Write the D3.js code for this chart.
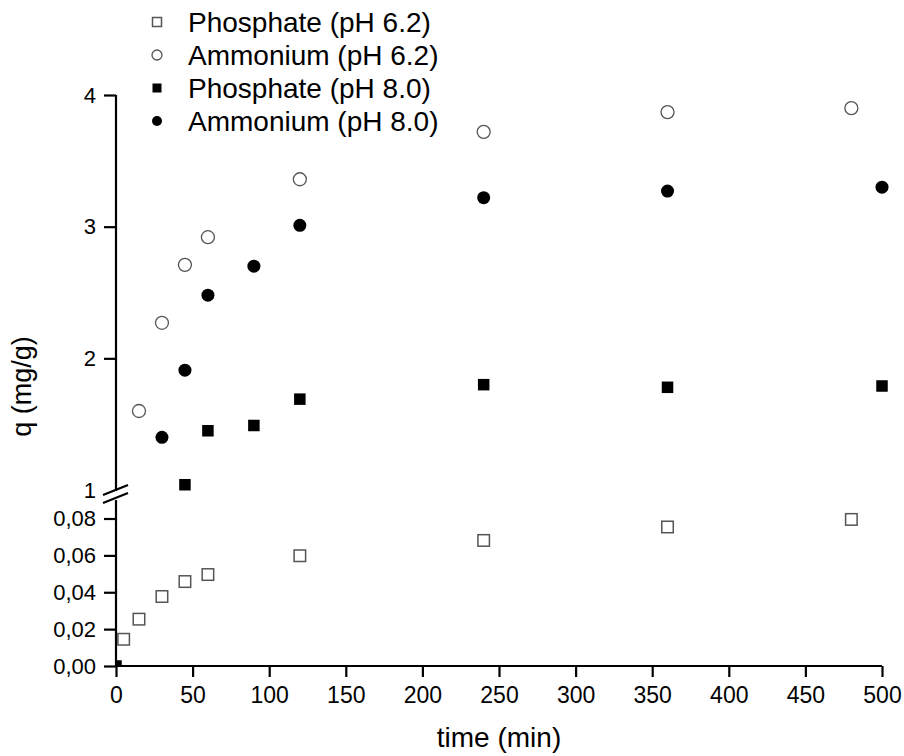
<html>
<head>
<script src="https://d3js.org/d3.v7.min.js"></script>
<style>
    body { margin: 0; background: #fff; }
    .axis path, .axis line { stroke: #000; stroke-width: 2.2px; }
    .axis text { font-family: "Liberation Sans", Arial, sans-serif; font-size: 22px; fill: #000; }
    .xaxis text { font-size: 23px; }
    .title { font-family: "Liberation Sans", Arial, sans-serif; fill: #000; }
    .legend text { font-family: "Liberation Sans", Arial, sans-serif; font-size: 28px; fill: #000; }
</style>
</head>
<body>
<svg id="chart" width="904" height="756"></svg>
<script>
    // values (phosphate pH 6.2 sits on the low part of the broken y axis)
    const timeP62 = [5, 15, 30, 45, 60, 120, 240, 360, 480];
    const qP62 = [0.0145, 0.0254, 0.0377, 0.0458, 0.0496, 0.0598, 0.0681, 0.0754, 0.0795];

    const timeA62 = [15, 30, 45, 60, 120, 240, 360, 480];
    const qA62 = [1.60, 2.27, 2.71, 2.92, 3.36, 3.72, 3.87, 3.90];

    const timeP80 = [0, 45, 60, 90, 120, 240, 360, 500];
    const qP80 = [0, 1.04, 1.45, 1.49, 1.69, 1.80, 1.78, 1.79];

    const timeA80 = [30, 45, 60, 90, 120, 240, 360, 500];
    const qA80 = [1.40, 1.91, 2.48, 2.70, 3.01, 3.22, 3.27, 3.30];

    const seriesNames = ["Phosphate (pH 6.2)", "Ammonium (pH 6.2)", "Phosphate (pH 8.0)", "Ammonium (pH 8.0)"];
    const xTicks = [0, 50, 100, 150, 200, 250, 300, 350, 400, 450, 500];
    const yLowTicks = [0, 0.02, 0.04, 0.06, 0.08];
    const yHighTicks = [1, 2, 3, 4];

    const svg = d3.select("#chart");
    const width = +svg.attr("width");
    const height = +svg.attr("height");
    const margin = { top: 95, right: 22, bottom: 90, left: 116 };
    const plotBottom = height - margin.bottom;

    const x = d3.scaleLinear().domain([0, 500]).range([margin.left, width - margin.right]);
    // two y scales, axis broken between ~0.09 and 1
    const yLow = d3.scaleLinear().domain([0, 0.08]).range([plotBottom, plotBottom - 147.5]);
    const yHigh = d3.scaleLinear().domain([1, 4]).range([490, margin.top]);
    const lowTop = yLow(0.09);
    const y = v => v < 0.5 ? yLow(v) : yHigh(v);

    const series = [
        { name: seriesNames[0], t: timeP62, q: qP62, shape: "square", filled: false },
        { name: seriesNames[1], t: timeA62, q: qA62, shape: "circle", filled: false },
        { name: seriesNames[2], t: timeP80, q: qP80, shape: "square", filled: true },
        { name: seriesNames[3], t: timeA80, q: qA80, shape: "circle", filled: true }
    ];

    svg.append("clipPath").attr("id", "plotclip")
        .append("rect")
        .attr("x", margin.left).attr("y", 0)
        .attr("width", width - margin.left).attr("height", plotBottom);

    const marks = svg.append("g").attr("clip-path", "url(#plotclip)");

    function drawMarker(g, shape, filled, cx, cy, size) {
        if (shape === "square") {
            g.append("rect")
                .attr("x", cx - size / 2).attr("y", cy - size / 2)
                .attr("width", size).attr("height", size)
                .attr("fill", filled ? "#000" : "#fff")
                .attr("stroke", filled ? "none" : "#555")
                .attr("stroke-width", 1.5);
        } else {
            g.append("circle")
                .attr("cx", cx).attr("cy", cy).attr("r", size / 2)
                .attr("fill", filled ? "#000" : "#fff")
                .attr("stroke", filled ? "none" : "#555")
                .attr("stroke-width", 1.3);
        }
    }

    series.forEach(s => {
        s.t.forEach((t, i) => {
            const size = s.shape === "square" ? 11.5 : 13;
            drawMarker(marks, s.shape, s.filled, x(t), y(s.q[i]), size);
        });
    });

    // x axis
    svg.append("g").attr("class", "axis xaxis")
        .attr("transform", "translate(0," + plotBottom + ")")
        .call(d3.axisBottom(x).tickValues(xTicks).tickSize(11).tickSizeOuter(0).tickPadding(10).tickFormat(d3.format("d")))
        .call(g => g.select(".domain").attr("d", "M" + margin.left + ",0H" + x(500)));

    const comma = d => d3.format(".2f")(d).replace(".", ",");
    svg.append("g").attr("class", "axis")
        .attr("transform", "translate(" + margin.left + ",0)")
        .call(d3.axisLeft(yLow).tickValues(yLowTicks).tickSize(12).tickSizeOuter(0).tickPadding(8).tickFormat(comma))
        .call(g => g.select(".domain").attr("d", "M0," + plotBottom + "V" + lowTop));

    svg.append("g").attr("class", "axis")
        .attr("transform", "translate(" + margin.left + ",0)")
        .call(d3.axisLeft(yHigh).tickValues(yHighTicks).tickSize(12).tickSizeOuter(0).tickPadding(8).tickFormat(d3.format("d")))
        .call(g => g.selectAll(".tick").filter(d => d === 1).select("line").remove())
        .call(g => g.select(".domain").attr("d", "M0," + (yHigh(1) + 1) + "V" + margin.top));

    // break marks
    const bx = margin.left;
    [yHigh(1), lowTop - 2].forEach(by => {
        svg.append("line")
            .attr("x1", bx - 13).attr("y1", by + 5)
            .attr("x2", bx + 12).attr("y2", by - 5)
            .attr("stroke", "#000").attr("stroke-width", 2.2);
    });

    // axis titles, centred on the full axis lengths
    svg.append("text").attr("class", "title")
        .attr("x", x(250)).attr("y", 747)
        .attr("text-anchor", "middle")
        .style("font-size", "28px")
        .text("time (min)");
    svg.append("text").attr("class", "title")
        .attr("transform", "translate(31," + ((margin.top + plotBottom) / 2 + 6) + ") rotate(-90)")
        .attr("text-anchor", "middle")
        .style("font-size", "27px")
        .text("q (mg/g)");

    // legend
    const legend = svg.append("g").attr("class", "legend");
    series.forEach((s, i) => {
        const base = 32 + i * 33;
        drawMarker(legend, s.shape, s.filled, 157, base - 10, s.shape === "square" ? 9 : 10);
        legend.append("text").attr("x", 188).attr("y", base).text(s.name);
    });
</script>
</body>
</html>
